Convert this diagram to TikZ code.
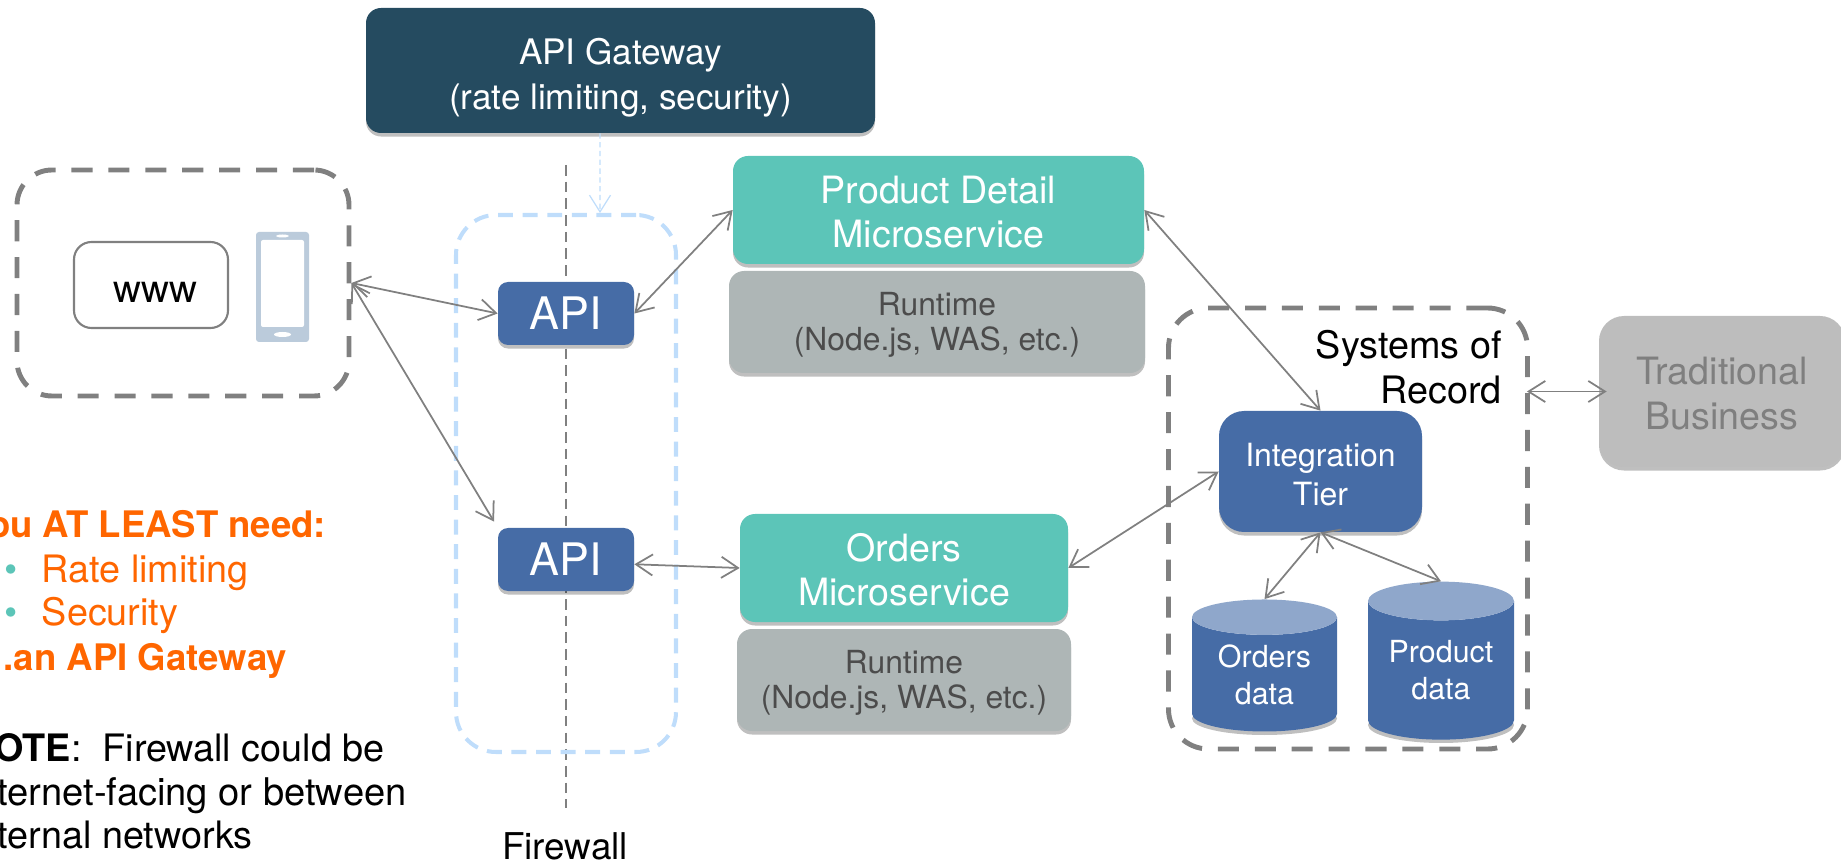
\documentclass[tikz,border=0pt]{standalone}
\usepackage{fontspec}
\setmainfont{TeX Gyre Heros}
\usetikzlibrary{arrows.meta}
\usetikzlibrary{shapes.geometric,shadows}

\definecolor{gatewaynavy}{HTML}{254B60}
\definecolor{apiblue}{HTML}{466CA6}
\definecolor{cyltop}{HTML}{8FA7CB}
\definecolor{svcteal}{HTML}{5CC5B8}
\definecolor{rungray}{HTML}{AEB6B6}
\definecolor{tradgray}{HTML}{BDBDBD}
\definecolor{tradtext}{HTML}{7F7F7F}
\definecolor{linegray}{HTML}{808080}
\definecolor{zoneblue}{HTML}{BFDDFB}
\definecolor{phoneblue}{HTML}{BBCBDB}
\definecolor{noteorange}{HTML}{FF6600}

\newcommand{\lowtext}[1]{\rule{0pt}{#1}}

\begin{document}
\begin{tikzpicture}
		[softshadow/.style={drop shadow={shadow xshift=0pt,shadow yshift=-2pt,opacity=.25,fill=black}},
		box/.style={rectangle,rounded corners=0.3cm,inner sep=0pt,text=white,align=center,softshadow},
		apibox/.style={box,fill=apiblue,minimum width=2.72cm,minimum height=1.26cm,rounded corners=0.2cm,font=\fontsize{25.5}{30}\selectfont},
		svcbox/.style={box,fill=svcteal,font=\fontsize{21.4}{25.5}\selectfont},
		runbox/.style={box,fill=rungray,text=black!70,font=\fontsize{18.1}{20}\selectfont},
		zone/.style={rectangle,draw=linegray,line width=2.8pt,dash pattern=on 12pt off 9pt,inner sep=0pt,rounded corners=0.7cm},
		database/.style={cylinder,shape border rotate=90,cylinder uses custom fill,cylinder body fill=apiblue,cylinder end fill=cyltop,inner sep=0pt,text=white,align=center,font=\fontsize{17.3}{21}\selectfont},
		dbshadow/.style={ellipse,fill=black,opacity=.25,inner sep=0pt},
		note/.style={inner sep=0pt,font=\fontsize{21.5}{25}\selectfont},
		boldnote/.style={note,text=noteorange,font=\fontsize{20.8}{25}\selectfont\bfseries},
		link/.style={draw=linegray,line width=1pt,{Straight Barb[length=9.5pt,width=12pt]}-{Straight Barb[length=9.5pt,width=12pt]}},]
		\useasboundingbox (0,0) rectangle (36.82,-17.24);
		
		% firewall and the zone around the APIs
		\coordinate (fwtop) at (11.32,-3.3);
		\coordinate (fwbot) at (11.32,-16.16);
		\draw[linegray,line width=1.4pt,dash pattern=on 6pt off 3.5pt] (fwtop) -- (fwbot);
		\node[zone,draw=zoneblue,line width=2.3pt,dash pattern=on 8.5pt off 5.5pt,minimum width=4.4cm,minimum height=10.74cm,rounded corners=0.8cm] (apizone) at (11.32,-9.67){};
		\node[note,font=\fontsize{21}{25}\selectfont] (firewall) at (11.30,-16.93){Firewall};
		
		\node[box,fill=gatewaynavy,minimum width=10.18cm,minimum height=2.5cm,font=\fontsize{20}{26}\selectfont] (gateway) at (12.41,-1.41){\lowtext{23pt}API Gateway\\(rate limiting, security)};
		\draw[zoneblue,line width=0.7pt,dash pattern=on 3pt off 2pt,-{Straight Barb[length=9.5pt,width=12pt]}] ([xshift=-0.41cm]gateway.south) -- ([xshift=0.68cm]apizone.north);
		
		% clients
		\node[zone,minimum width=6.64cm,minimum height=4.52cm] (clients) at (3.66,-5.66){};
		\node[draw=linegray,line width=1.2pt,rectangle,rounded corners=0.35cm,minimum width=3.08cm,minimum height=1.72cm,inner sep=0pt,font=\fontsize{22}{25}\selectfont] (www) at (3.02,-5.70){\hspace*{5.4pt}\lowtext{19.5pt}www};
		\node[rectangle,fill=phoneblue,rounded corners=0.06cm,minimum width=1.06cm,minimum height=2.2cm,inner sep=0pt] (phone) at (5.65,-5.74){};
		\node[rectangle,fill=white,rounded corners=0.04cm,minimum width=0.86cm,minimum height=1.74cm,inner sep=0pt] (screen) at (5.65,-5.67){};
		\node[ellipse,fill=white,minimum width=0.26cm,minimum height=0.06cm,inner sep=0pt] (speaker) at (5.65,-4.72){};
		\node[ellipse,fill=white,minimum width=0.34cm,minimum height=0.1cm,inner sep=0pt] (homekey) at (5.65,-6.69){};
		
		\node[apibox] (api1) at (11.32,-6.27){API};
		\node[apibox] (api2) at (11.32,-11.19){API};
		
		\node[svcbox,minimum width=8.22cm,minimum height=2.16cm] (product) at (18.77,-4.20){\lowtext{18pt}Product Detail\\Microservice};
		\node[runbox,minimum width=8.32cm,minimum height=2.04cm] (runtime1) at (18.74,-6.44){\lowtext{16.7pt}Runtime\\(Node.js, WAS, etc.)};
		\node[svcbox,minimum width=6.56cm,minimum height=2.16cm] (orders) at (18.08,-11.36){\lowtext{18pt}Orders\\Microservice};
		\node[runbox,minimum width=6.68cm,minimum height=2.04cm] (runtime2) at (18.08,-13.60){\lowtext{16.7pt}Runtime\\(Node.js, WAS, etc.)};
		
		% systems of record
		\node[zone,minimum width=7.18cm,minimum height=8.82cm,rounded corners=0.8cm] (systems) at (26.96,-10.57){};
		\node[note,anchor=north east,align=right,font=\fontsize{21.5}{26.1}\selectfont] (sysrecord) at (30.04,-6.59){Systems of\\Record};
		\node[box,fill=apiblue,minimum width=4.06cm,minimum height=2.42cm,rounded corners=0.5cm,font=\fontsize{18.2}{22}\selectfont] (integration) at (26.41,-9.43){\lowtext{16.5pt}Integration\\Tier};
		\node[dbshadow,minimum width=2.9cm,minimum height=0.66cm] (ordersshade) at (25.29,-14.37){};
		\node[dbshadow,minimum width=2.92cm,minimum height=0.72cm] (productshade) at (28.82,-14.50){};
		\node[database,minimum width=2.9cm,minimum height=2.64cm,aspect=0.38] (ordersdata) at (25.29,-13.49){Orders\\data};
		\node[database,minimum width=2.92cm,minimum height=3.16cm,aspect=0.37] (productdata) at (28.82,-13.41){Product\\data};
		\node[box,fill=tradgray,text=tradtext,minimum width=4.92cm,minimum height=3.02cm,rounded corners=0.5cm,font=\fontsize{21.4}{25.5}\selectfont] (traditional) at (34.44,-7.83){\lowtext{18pt}Traditional\\Business};
		
		% connectors
		\draw[link] (clients.east) -- (api1.west);
		\draw[link,shorten >=4pt] (clients.east) -- (api2.north west);
		\draw[link] (api1.east) -- (product.west);
		\draw[link] (api2.-4) -- (orders.west);
		\draw[link] (product.east) -- (integration.north);
		\draw[link] (orders.east) -- (integration.west);
		\draw[link] (integration.south) -- (ordersdata.north);
		\draw[link] (integration.south) -- (productdata.north);
		\coordinate (sysport) at ([xshift=-0.06cm]systems.east |- traditional.west);
		\draw[link] (sysport) -- ([xshift=0.16cm]traditional.west);
		
		% notes on the left
		\node[boldnote,anchor=base east] (needline) at (6.53,-10.75){ou AT LEAST need:};
		\node[note,anchor=base,text=svcteal] (bullet1) at (0.22,-11.64){•};
		\node[note,anchor=base west,text=noteorange] (ratelimit) at (0.83,-11.64){Rate limiting};
		\node[note,anchor=base,text=svcteal] (bullet2) at (0.22,-12.50){•};
		\node[note,anchor=base west,text=noteorange] (security) at (0.83,-12.50){Security};
		\node[boldnote,anchor=base east] (gwline) at (5.75,-13.40){.an API Gateway};
		\node[note,anchor=base east] (noteline1) at (7.70,-15.22){{\bfseries OTE}:\ \ Firewall could be};
		\node[note,anchor=base east,font=\fontsize{21.7}{25}\selectfont] (noteline2) at (8.14,-16.10){ternet-facing or between};
		\node[note,anchor=base east] (noteline3) at (5.06,-16.97){ternal networks};
		
	\end{tikzpicture}
\end{document}
